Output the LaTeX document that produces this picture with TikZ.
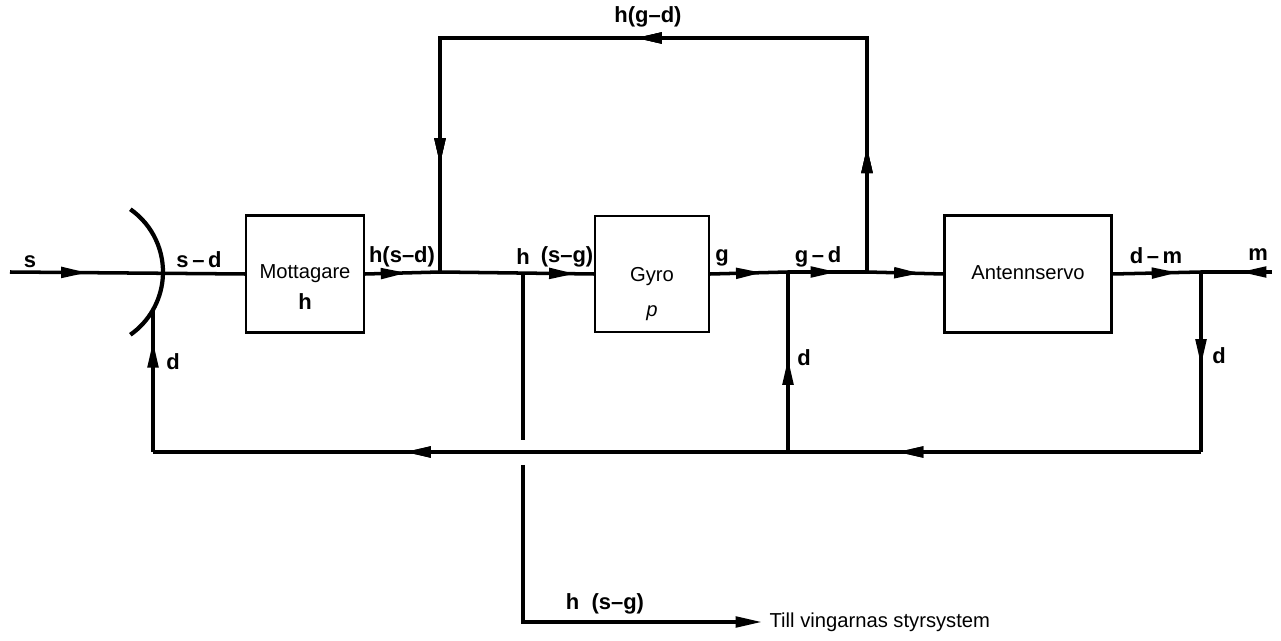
\documentclass[tikz,border=0pt]{standalone}
\usepackage{fontspec}
\setmainfont{Liberation Sans}
\usetikzlibrary{decorations.markings, arrows.meta}

\tikzset{
  flow/.style={decoration={markings, mark=at position #1 with {\arrow{Triangle[length=15pt,width=6pt]}}}, postaction={decorate}},
  blockbox/.style={draw, line width=1.3pt, inner sep=0pt},
  sig/.style={font=\fontsize{12.5}{14}\selectfont\bfseries},
  txt/.style={font=\fontsize{11.5}{13}\selectfont}
}

\begin{document}
\begin{tikzpicture}[x=0.02cm, y=-0.02cm, line width=2pt, >={Triangle[length=15pt,width=6pt]}]
            \useasboundingbox (0,0) rectangle (1281,641);

            % blocks
            \node[blockbox, minimum width=2.36cm, minimum height=2.34cm] (mott) at (305,274) {};
            \node[blockbox, minimum width=2.28cm, minimum height=2.32cm] (gyro) at (652,274) {};
            \node[blockbox, minimum width=3.34cm, minimum height=2.34cm] (ant) at (1028,274) {};
            \node[txt] at (305,274) {Mottagare};
            \node[sig] at (305,302) {h};
            \node[txt] at (652,277) {Gyro};
            \node[txt] at (652,313) {\itshape p};
            \node[txt] at (1028,273) {Antennservo};

            % junctions
            \coordinate (sIn) at (10,272);
            \coordinate (mIn) at (1272,272);
            \coordinate (jA) at (440,272);
            \coordinate (jB) at (523,272);
            \coordinate (jC) at (788,272);
            \coordinate (jD) at (867,272);
            \coordinate (jE) at (1201,272);
            \coordinate (tl) at (440,38);
            \coordinate (tr) at (867,38);
            \coordinate (bl) at (153,452);
            \coordinate (bC) at (788,452);
            \coordinate (bR) at (1201,452);
            \coordinate (arcD) at (153,310);
            \coordinate (gapT) at (523,440);
            \coordinate (gapB) at (523,465);

            % summing arc
            \draw[line width=2.4pt] (86.4,272) ++(-55:76.6) arc[start angle=-55, end angle=55, radius=76.6];

            % forward path
            \draw[flow=0.33] (sIn) -- (mott.west);
            \foreach \a/\b/\p in {mott.east/jA/0.56, jA/gyro.west/0.88, gyro.east/jC/0.67, jC/jD/0.62, jD/ant.west/0.7, ant.east/jE/0.74, mIn/jE/0.45, jE/bR/0.52, bC/jC/0.52, bl/arcD/0.78} {
                \draw[flow=\p] (\a) -- (\b);
            }

            % loops
            \draw[flow=0.29, flow=0.76] (bR) -- (bl);
            \draw[flow=0.14, flow=0.52, flow=0.88] (jD) -- (tr) -- (tl) -- (jA);
            \draw (jB) -- (gapT);
            \node[txt, anchor=west] (till) at (762,622) {Till vingarnas styrsystem};
            \draw[->] (gapB) |- (till.west);

            % signal labels
            \node[sig] at (30,262) {s};
            \node[sig] at (199,260) {s\,--\,d};
            \node[sig] at (402,257) {h(s--d)};
            \node[sig] at (648,17) {h(g--d)};
            \node[sig] at (523,257) {h};
            \node[sig] at (567,257) {(s--g)};
            \node[sig] at (722,258) {g};
            \node[sig] at (818,257) {g\,--\,d};
            \node[sig] at (1156,256) {d\,--\,m};
            \node[sig] at (1258,255) {m};
            \node[sig] at (173,362) {d};
            \node[sig] at (804,358) {d};
            \node[sig] at (1219,356) {d};
            \node[sig] at (605,604) {h\ \ (s--g)};
        \end{tikzpicture}
\end{document}
